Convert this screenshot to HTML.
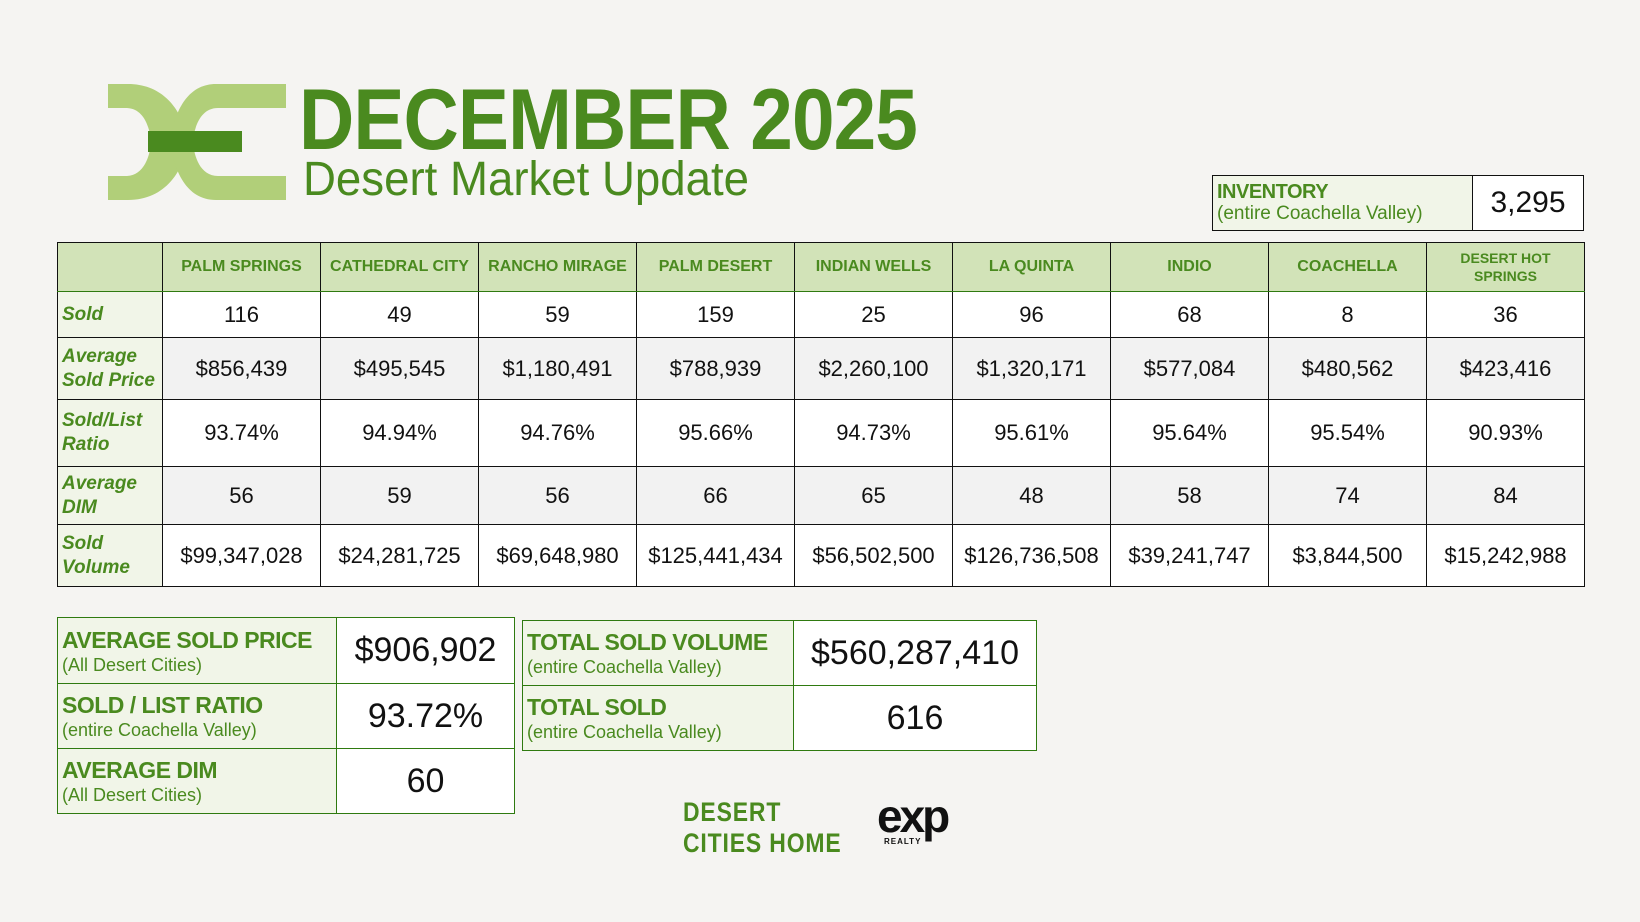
<!DOCTYPE html>
<html><head><meta charset="utf-8">
<style>
*{box-sizing:border-box;margin:0;padding:0}
body{width:1640px;height:922px;background:#f5f4f2;position:relative;overflow:hidden;font-family:"Liberation Sans",sans-serif}
.abs{position:absolute}
.g{color:#4a8a1f}
table{border-collapse:collapse;position:absolute;table-layout:fixed}
td{border:1.5px solid #111;text-align:center;vertical-align:middle;font-size:22px;color:#111;padding:0;white-space:nowrap}
td.h{background:#d2e3b8;color:#4a8a1f;font-weight:bold;font-size:16px;border-bottom-color:#2f7a10}
td.lab{background:#f1f5e8;color:#4a8a1f;font-weight:bold;font-style:italic;font-size:19px;text-align:left;padding-left:4px;line-height:24px}
tr.gray td.v{background:#f2f2f2}
tr.white td.v{background:#fff}
.box td{border-color:#2f7a10}
.box td.k{background:#f1f5e8;text-align:left;padding-left:4px;color:#4a8a1f}
.box td.k b{font-size:23px;display:block;line-height:28px;letter-spacing:-0.5px}
.box td.k span{font-size:18px;display:block;line-height:22px}
.box td.val{background:#fff;font-size:34px}
</style></head><body>
<svg class="abs" style="left:108px;top:84px" width="178" height="116" viewBox="0 0 178 116">
<path d="M0 0 H20 C58 0 76 30 80 58 C76 86 58 116 20 116 H0 V92 H18 C36 92 42 72 43 58 C42 44 36 24 18 24 H0 Z" fill="#b1cf79"/>
<path d="M178 0 H108 C78 0 66 30 62 58 C66 86 78 116 108 116 H178 V92 H110 C92 92 86 72 85 58 C86 44 92 24 110 24 H178 Z" fill="#b1cf79"/>
<rect x="40" y="47" width="94" height="21" fill="#4a8a1f"/>
</svg>
<div class="abs g" style="left:299px;top:70px;font-size:86px;font-weight:bold;letter-spacing:-1px;line-height:100px;transform:scaleX(0.89);transform-origin:0 0">DECEMBER 2025</div>
<div class="abs g" style="left:303px;top:152px;font-size:48px;line-height:56px;transform:scaleX(0.95);transform-origin:0 0">Desert Market Update</div>

<table class="box" style="left:1212px;top:175px;width:372px;height:56px">
<tr><td class="k" style="width:260px;border-color:#111"><b style="font-size:20px;line-height:22px">INVENTORY</b><span style="font-size:19px">(entire Coachella Valley)</span></td><td class="val" style="font-size:30px;border-color:#111">3,295</td></tr></table>

<table id="main" style="left:57px;top:242px;width:1527px">
<colgroup><col style="width:105px"><col span="9" style="width:158px"></colgroup>
</table>

<table class="box" style="left:57px;top:617px;width:458px">
<colgroup><col style="width:279px"><col></colgroup>
<tr style="height:66px"><td class="k"><b>AVERAGE SOLD PRICE</b><span>(All Desert Cities)</span></td><td class="val">$906,902</td></tr>
<tr style="height:65px"><td class="k"><b>SOLD / LIST RATIO</b><span>(entire Coachella Valley)</span></td><td class="val">93.72%</td></tr>
<tr style="height:65px"><td class="k"><b>AVERAGE DIM</b><span>(All Desert Cities)</span></td><td class="val">60</td></tr>
</table>
<table class="box" style="left:522px;top:620px;width:515px">
<colgroup><col style="width:271px"><col></colgroup>
<tr style="height:65px"><td class="k"><b>TOTAL SOLD VOLUME</b><span>(entire Coachella Valley)</span></td><td class="val">$560,287,410</td></tr>
<tr style="height:65px"><td class="k"><b>TOTAL SOLD</b><span>(entire Coachella Valley)</span></td><td class="val">616</td></tr>
</table>

<div class="abs g" style="left:683px;top:797px;font-size:27px;font-weight:bold;line-height:31px;letter-spacing:1px;transform:scaleX(0.85);transform-origin:0 0">DESERT<br>CITIES HOME</div>
<div class="abs" style="left:877px;top:793px;font-size:46px;font-weight:bold;letter-spacing:-3px;color:#111;line-height:46px">exp</div>
<div class="abs" style="left:884px;top:837px;font-size:8px;font-weight:bold;letter-spacing:1px;color:#111">REALTY</div>

<script>
const cities=["PALM SPRINGS","CATHEDRAL CITY","RANCHO MIRAGE","PALM DESERT","INDIAN WELLS","LA QUINTA","INDIO","COACHELLA","DESERT HOT SPRINGS"];
const rowLabels=["Sold","Average Sold Price","Sold/List Ratio","Average DIM","Sold Volume"];
const sold=["116","49","59","159","25","96","68","8","36"];
const avgPrice=["$856,439","$495,545","$1,180,491","$788,939","$2,260,100","$1,320,171","$577,084","$480,562","$423,416"];
const ratio=["93.74%","94.94%","94.76%","95.66%","94.73%","95.61%","95.64%","95.54%","90.93%"];
const dim=["56","59","56","66","65","48","58","74","84"];
const volume=["$99,347,028","$24,281,725","$69,648,980","$125,441,434","$56,502,500","$126,736,508","$39,241,747","$3,844,500","$15,242,988"];
const rows=[sold,avgPrice,ratio,dim,volume];
const heights=[49,46,62,67,58,62];
const labHtml=["Sold","Average<br>Sold Price","Sold/List<br>Ratio","Average<br>DIM","Sold<br>Volume"];
const t=document.getElementById('main');
let tr=document.createElement('tr');tr.style.height=heights[0]+'px';
let c=document.createElement('td');c.className='h';


tr.appendChild(c);
cities.forEach((n,i)=>{const d=document.createElement('td');d.className='h';
 if(n==="DESERT HOT SPRINGS"){d.innerHTML='DESERT HOT<br>SPRINGS';d.style.fontSize='14px';d.style.lineHeight='18px';}else d.textContent=n;
 
 
 tr.appendChild(d);});
t.appendChild(tr);
rows.forEach((arr,r)=>{const row=document.createElement('tr');row.className=(r%2)?'gray':'white';row.style.height=heights[r+1]+'px';
 const l=document.createElement('td');l.className='lab';l.innerHTML=labHtml[r];
 
 
 row.appendChild(l);
 arr.forEach(v=>{const d=document.createElement('td');d.className='v';d.textContent=v;
  
  
  row.appendChild(d);});
 t.appendChild(row);});
</script>
</body></html>
